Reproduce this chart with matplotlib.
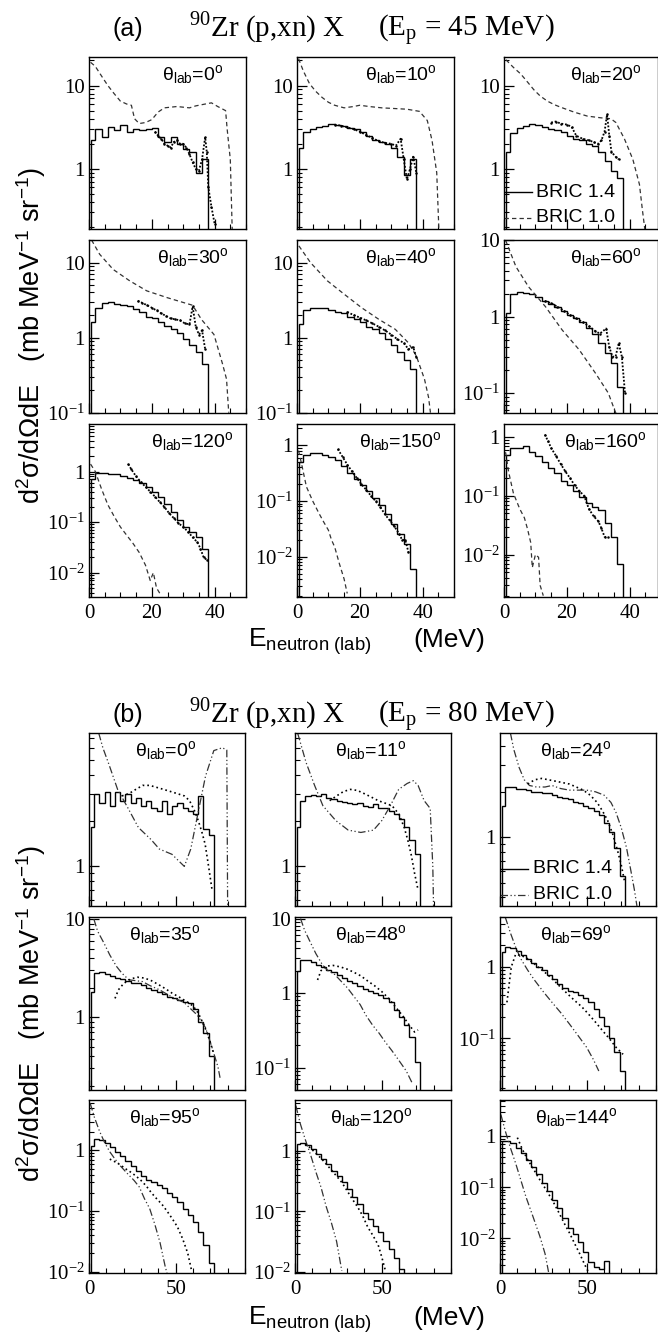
import numpy as np
import matplotlib.pyplot as plt
from matplotlib.ticker import LogLocator, MultipleLocator, FuncFormatter, NullFormatter

plt.rcParams['font.family'] = ['Liberation Sans', 'DejaVu Sans']
plt.rcParams['mathtext.fontset'] = 'custom'
plt.rcParams['mathtext.rm'] = 'Liberation Sans'
plt.rcParams['mathtext.it'] = 'Liberation Sans:italic'

# ---------------- (a) Ep = 45 MeV ----------------
ANGLES_A = ['0', '10', '20', '30', '40', '60', '120', '150', '160']
# bin edges of the BRIC 1.4 histograms (first and last bin are empty)
EDGES_A = [0, 0.75, 2, 4, 6, 8, 10, 12, 14, 16, 18, 20, 22, 24, 26, 28, 30, 32, 34, 36, 38, 40, 42]

A_T0_HIST = [2.2, 3.0, 2.4, 3.2, 2.9, 3.4, 2.8, 3.0, 2.9, 3.0, 3.1, 2.4, 2.1, 2.4, 2.0, 1.75, 1.6, 0.9, 1.3, 0]
A_T0_OLD_E = [0.5, 2, 4, 6, 8, 10, 12, 13.5, 14.5, 16, 18, 20, 22, 24, 28, 32, 34, 37, 39, 41, 43.5, 44, 45, 45.6]
A_T0_OLD_V = [19, 17, 13, 10, 8, 6.5, 6, 5.8, 4.0, 3.5, 3.6, 3.9, 4.8, 5.4, 5.6, 5.4, 5.7, 6.0, 6.2, 5.6, 5.0, 3.0, 1.3, 0.19]
A_T0_EXP_E = [21, 22, 23, 24, 25, 26, 27, 28, 29, 30, 31, 32, 33, 34, 35, 36, 37, 37.5, 38, 39, 40]
A_T0_EXP_V = [2.8, 2.5, 2.3, 2.0, 1.9, 1.8, 2.1, 2.2, 2.0, 2.0, 1.8, 1.5, 1.2, 1.0, 0.95, 1.3, 2.4, 1.6, 0.6, 0.35, 0.22]

A_T10_HIST = [1.8, 2.8, 3.0, 3.2, 3.3, 3.5, 3.4, 3.3, 3.1, 3.0, 2.8, 2.5, 2.2, 2.1, 2.0, 1.8, 1.4, 0.85, 1.3, 0]
A_T10_OLD_E = [0.5, 2, 4, 6, 8, 10, 12, 15, 18, 20, 23, 27, 31, 35, 39, 41.5, 43, 44.5, 45.2]
A_T10_OLD_V = [21, 15, 10.5, 8.5, 7.2, 6.3, 5.8, 5.4, 5.6, 5.8, 5.6, 5.4, 5.3, 5.2, 4.9, 3.8, 2.2, 0.9, 0.18]
A_T10_EXP_E = [12, 14, 16, 18, 20, 22, 24, 26, 28, 30, 31.5, 33, 34, 35, 36, 37, 38]
A_T10_EXP_V = [3.4, 3.3, 3.15, 3.0, 2.8, 2.55, 2.35, 2.15, 2.05, 2.0, 1.9, 2.3, 1.3, 0.75, 1.0, 1.4, 0.9]

A_T20_HIST = [1.6, 2.7, 3.1, 3.3, 3.5, 3.4, 3.2, 3.0, 2.9, 2.8, 2.5, 2.3, 2.2, 2.0, 1.9, 1.6, 1.25, 0.95, 0.78, 0]
A_T20_OLD_E = [0.6, 3, 5.3, 7.5, 9.5, 11.5, 13.8, 16, 18, 22.3, 26.5, 30.8, 34, 35.6, 38.3, 41, 43.1, 44, 44.8]
A_T20_OLD_V = [20.4, 16.5, 13.8, 11, 8.9, 7.5, 6.5, 5.9, 5.5, 4.8, 4.3, 4.1, 4.0, 3.6, 2.3, 1.3, 0.65, 0.33, 0.19]
A_T20_EXP_E = [15, 16.5, 18, 20, 21.5, 23, 25, 27, 28.5, 30, 31, 32, 32.8, 33.5, 34.2, 35.5, 36.5]
A_T20_EXP_V = [3.6, 3.7, 3.5, 3.4, 3.2, 2.5, 2.3, 2.2, 2.1, 2.0, 2.2, 2.8, 4.5, 2.5, 1.6, 1.4, 1.3]

A_T30_HIST = [1.6, 2.5, 2.9, 3.0, 2.8, 2.7, 2.6, 2.4, 2.2, 1.9, 1.8, 1.6, 1.45, 1.3, 1.15, 0.95, 0.8, 0.65, 0.45, 0]
A_T30_OLD_E = [0.8, 3.4, 7.7, 13, 18.4, 25, 30.5, 33, 35.8, 39.8, 42.5, 43.8, 44.5]
A_T30_OLD_V = [20, 12.9, 8.1, 5.7, 4.2, 3.4, 2.9, 2.7, 1.75, 1.1, 0.45, 0.28, 0.1]
A_T30_EXP_E = [15.5, 17, 18.5, 20, 21.5, 23, 24.5, 26, 27.5, 29, 30.5, 32, 33, 34, 35, 36, 37]
A_T30_EXP_V = [3.1, 2.9, 2.7, 2.5, 2.3, 2.1, 1.95, 1.8, 1.75, 1.7, 1.55, 1.5, 2.6, 1.4, 1.1, 1.25, 0.7]

A_T40_HIST = [1.5, 2.3, 2.5, 2.5, 2.45, 2.35, 2.2, 2.1, 1.9, 1.75, 1.6, 1.4, 1.3, 1.15, 0.95, 0.8, 0.65, 0.5, 0.38, 0]
A_T40_OLD_E = [0.6, 4.3, 9.7, 15, 20.6, 26, 31.3, 35.4, 38, 40.6, 41.9, 42.5]
A_T40_OLD_V = [16.7, 10, 5.7, 3.8, 2.5, 1.76, 1.29, 0.86, 0.57, 0.28, 0.16, 0.1]
A_T40_EXP_E = [16, 18, 20, 22, 24, 26, 28, 30, 32, 34, 35.5, 37, 38]
A_T40_EXP_V = [2.2, 2.0, 1.85, 1.7, 1.55, 1.4, 1.25, 1.1, 0.95, 0.85, 0.7, 0.75, 0.55]

A_T60_HIST = [1.1, 2.0, 2.1, 2.05, 2.0, 1.8, 1.6, 1.45, 1.35, 1.2, 1.05, 0.95, 0.85, 0.72, 0.6, 0.45, 0.33, 0.25, 0.12, 0]
A_T60_OLD_E = [0.5, 3.8, 7.8, 13.2, 18.5, 23.9, 29.2, 33.2, 35.2, 36]
A_T60_OLD_V = [10, 4.5, 2.46, 1.35, 0.67, 0.37, 0.18, 0.1, 0.06, 0.05]
A_T60_EXP_E = [13, 15, 17, 19, 21, 23, 25, 27, 29, 30.5, 32.5, 33.5, 34.5, 35.5, 36.5, 37.5, 38.5]
A_T60_EXP_V = [1.6, 1.5, 1.35, 1.2, 1.05, 0.95, 0.85, 0.75, 0.65, 0.6, 0.7, 0.4, 0.3, 0.3, 0.45, 0.3, 0.1]

A_T120_HIST = [0.7, 0.95, 0.95, 0.9, 0.88, 0.82, 0.75, 0.68, 0.6, 0.5, 0.4, 0.32, 0.23, 0.16, 0.11, 0.08, 0.065, 0.05, 0.03, 0]
A_T120_OLD_E = [0.5, 2, 4, 6, 8, 10, 12, 14, 16, 18, 19.5, 20.5, 21.5, 23]
A_T120_OLD_V = [1.4, 1.0, 0.45, 0.22, 0.13, 0.08, 0.055, 0.038, 0.025, 0.014, 0.007, 0.01, 0.005, 0.0035]
A_T120_EXP_E = [12.5, 13.5, 15, 16.5, 18, 19.5, 21, 22.5, 24, 25.5, 27, 28.5, 30, 31.5, 33, 34.5, 35.5, 36.5, 37.5]
A_T120_EXP_V = [1.4, 1.1, 0.8, 0.62, 0.5, 0.4, 0.32, 0.25, 0.2, 0.15, 0.12, 0.095, 0.08, 0.065, 0.05, 0.04, 0.03, 0.02, 0.018]

A_T150_HIST = [0.5, 0.68, 0.72, 0.74, 0.68, 0.62, 0.55, 0.42, 0.32, 0.25, 0.19, 0.15, 0.115, 0.085, 0.058, 0.038, 0.026, 0.017, 0.006, 0]
A_T150_OLD_E = [0.5, 1.5, 3, 5, 7, 8.5, 10, 11, 12, 13.5, 15, 16]
A_T150_OLD_V = [0.8, 0.45, 0.18, 0.1, 0.06, 0.042, 0.03, 0.02, 0.015, 0.0075, 0.004, 0.0022]
A_T150_EXP_E = [13, 14.5, 16, 17.5, 19, 20.5, 22, 23.5, 25, 26.5, 28, 29.5, 31, 32.5, 33.5, 34.5, 35.5]
A_T150_EXP_V = [0.85, 0.62, 0.45, 0.34, 0.26, 0.2, 0.16, 0.125, 0.1, 0.078, 0.058, 0.045, 0.035, 0.026, 0.02, 0.02, 0.012]

A_T160_HIST = [0.5, 0.64, 0.66, 0.7, 0.56, 0.48, 0.38, 0.3, 0.24, 0.18, 0.15, 0.12, 0.097, 0.075, 0.065, 0.057, 0.035, 0.02, 0.007, 0]
A_T160_OLD_E = [0.5, 1.5, 3, 5, 6.5, 7.5, 8.5, 9, 10, 11, 11.5, 12.5]
A_T160_OLD_V = [0.55, 0.25, 0.11, 0.06, 0.042, 0.027, 0.016, 0.006, 0.01, 0.009, 0.003, 0.002]
A_T160_EXP_E = [13, 14, 15, 16.5, 18, 19.5, 21, 22.5, 24, 25.5, 27, 28.5, 30, 31, 32, 33]
A_T160_EXP_V = [1.1, 0.85, 0.65, 0.48, 0.35, 0.26, 0.2, 0.15, 0.12, 0.1, 0.06, 0.045, 0.037, 0.028, 0.02, 0.02]

YLIM_A = [(0.19, 22), (0.19, 22), (0.19, 22),
          (0.099, 20), (0.099, 20), (0.055, 10.05),
          (0.0033, 8.7), (0.0019, 2.4), (0.0019, 1.66)]

# ---------------- (b) Ep = 80 MeV ----------------
ANGLES_B = ['0', '11', '24', '35', '48', '69', '95', '120', '144']
EDGES_B = [0, 1, 3, 6, 9, 12, 15, 18, 21, 24, 27, 30, 33, 36, 39, 42, 45, 48, 51, 54, 57, 60, 63, 66, 69, 72, 75]

B_T0_HIST = [1.8, 3.0, 2.6, 3.1, 2.5, 3.1, 2.7, 3.0, 2.6, 2.8, 2.5, 2.7, 2.4, 2.3, 2.7, 2.2, 2.5, 2.6, 2.4, 2.3, 2.2, 2.9, 1.75, 1.6]
B_T0_OLD_E = [5.6, 8, 11.7, 16.5, 22.6, 28.5, 35.8, 40.6, 47.9, 55, 58.7, 62.4, 67.2, 72, 76.9, 79.5, 80]
B_T0_OLD_V = [7.5, 6.0, 4.6, 3.2, 2.4, 1.8, 1.5, 1.3, 1.2, 1.0, 1.3, 2.1, 3.9, 5.75, 6.0, 5.8, 0.5]
B_T0_EXP_E = [19, 23, 27, 31, 35, 39, 43, 47, 51, 55, 58, 61, 63, 65, 67, 69, 71]
B_T0_EXP_V = [2.9, 3.0, 3.2, 3.4, 3.4, 3.3, 3.2, 3.1, 3.0, 2.9, 2.7, 2.3, 2.0, 1.7, 1.4, 1.0, 0.7]

B_T11_HIST = [1.8, 2.7, 2.9, 2.95, 2.9, 3.0, 2.8, 2.75, 2.7, 2.65, 2.6, 2.55, 2.6, 2.5, 2.45, 2.55, 2.4, 2.4, 2.3, 2.2, 2.05, 1.8, 1.5, 1.2]
B_T11_OLD_E = [1.5, 6.4, 11.3, 16.1, 23.5, 30.7, 38, 45.3, 50.1, 55, 59.8, 64.7, 68.3, 71, 74.5, 78, 79.5, 80]
B_T11_OLD_V = [7.5, 4.8, 3.4, 2.5, 2.0, 1.73, 1.67, 1.73, 2.0, 2.5, 3.2, 3.5, 3.65, 3.4, 2.7, 2.4, 1.0, 0.5]
B_T11_EXP_E = [20, 24, 28, 32, 36, 40, 44, 48, 52, 56, 60, 63, 65, 67, 69, 71]
B_T11_EXP_V = [2.7, 2.9, 3.1, 3.2, 3.15, 3.0, 2.85, 2.7, 2.6, 2.5, 2.2, 1.8, 1.5, 1.2, 0.9, 0.7]

B_T24_HIST = [1.6, 2.15, 2.15, 2.1, 2.1, 2.05, 2.0, 2.0, 1.95, 1.95, 1.9, 1.85, 1.82, 1.78, 1.72, 1.68, 1.62, 1.55, 1.48, 1.4, 1.25, 1.08, 0.85, 0.55]
B_T24_OLD_E = [6, 8, 11, 14, 17, 21, 26, 30, 35, 40, 45, 50, 55, 60, 64, 67, 70, 73, 75.5, 77.5, 79]
B_T24_OLD_V = [4.9, 3.8, 2.9, 2.4, 2.2, 2.15, 2.15, 2.2, 2.1, 2.05, 2.05, 2.05, 2.0, 1.9, 1.7, 1.45, 1.15, 0.85, 0.6, 0.45, 0.35]
B_T24_EXP_E = [16, 20, 24, 28, 32, 36, 40, 44, 48, 52, 56, 59, 62, 65, 68, 70, 72]
B_T24_EXP_V = [2.25, 2.4, 2.45, 2.4, 2.35, 2.3, 2.25, 2.15, 2.05, 1.9, 1.7, 1.5, 1.3, 1.05, 0.8, 0.65, 0.5]

B_T35_HIST = [1.8, 2.8, 2.9, 2.75, 2.6, 2.5, 2.45, 2.35, 2.25, 2.2, 2.1, 2.0, 1.9, 1.8, 1.7, 1.62, 1.55, 1.48, 1.42, 1.38, 1.2, 0.9, 0.68, 0.4]
B_T35_OLD_E = [2.8, 5, 8.6, 12, 15.8, 19, 23, 27, 30.9, 35, 40.6, 47.9, 55, 62.4, 67.2, 70.8, 74.4, 75.6]
B_T35_OLD_V = [10, 7.5, 5.7, 4.3, 3.3, 2.8, 2.4, 2.35, 2.3, 2.1, 1.9, 1.6, 1.4, 1.05, 0.78, 0.5, 0.31, 0.24]
B_T35_EXP_E = [15, 17, 20, 24, 28, 32, 36, 40, 44, 48, 52, 56, 60, 63, 66, 68, 70, 72]
B_T35_EXP_V = [1.55, 1.9, 2.2, 2.45, 2.55, 2.5, 2.35, 2.15, 1.95, 1.75, 1.6, 1.45, 1.3, 1.1, 0.85, 0.7, 0.55, 0.42]

B_T48_HIST = [2.0, 2.75, 2.8, 2.6, 2.4, 2.25, 2.05, 1.9, 1.75, 1.6, 1.45, 1.35, 1.25, 1.15, 1.08, 1.0, 0.95, 0.85, 0.75, 0.6, 0.48, 0.37, 0.26, 0.12]
B_T48_OLD_E = [3.2, 5.5, 8.5, 12, 15.8, 19, 23, 26.5, 30.3, 34, 37.6, 41, 44.8, 48.5, 52.1, 55.8, 59.4, 64.2, 67.9]
B_T48_OLD_V = [10, 7.0, 5.0, 3.4, 2.4, 2.0, 1.77, 1.45, 1.17, 0.9, 0.7, 0.5, 0.37, 0.29, 0.22, 0.17, 0.13, 0.09, 0.06]
B_T48_EXP_E = [13, 15, 18, 22, 26, 30, 34, 38, 42, 46, 50, 54, 58, 62, 66, 69, 71]
B_T48_EXP_V = [1.5, 2.0, 2.3, 2.35, 2.25, 2.1, 1.9, 1.7, 1.45, 1.25, 1.05, 0.85, 0.65, 0.5, 0.37, 0.3, 0.32]

B_T69_HIST = [1.6, 1.9, 1.85, 1.65, 1.45, 1.3, 1.15, 1.0, 0.9, 0.78, 0.68, 0.58, 0.5, 0.46, 0.44, 0.41, 0.37, 0.32, 0.26, 0.2, 0.15, 0.1, 0.065, 0.035]
B_T69_OLD_E = [3, 6, 9, 12, 16, 20, 25, 30, 35, 40, 45, 50, 54, 57]
B_T69_OLD_V = [5.0, 3.0, 1.9, 1.3, 0.9, 0.65, 0.45, 0.32, 0.23, 0.16, 0.11, 0.075, 0.05, 0.035]
B_T69_EXP_E = [4, 6.5, 9, 12, 15, 19, 23, 27, 31, 35, 39, 43, 47, 51, 55, 59, 63, 67, 71]
B_T69_EXP_V = [0.32, 1.0, 1.5, 1.45, 1.35, 1.15, 0.95, 0.8, 0.65, 0.52, 0.42, 0.34, 0.28, 0.22, 0.17, 0.13, 0.1, 0.075, 0.06]

B_T95_HIST = [1.2, 1.55, 1.5, 1.35, 1.15, 0.95, 0.8, 0.68, 0.55, 0.45, 0.38, 0.33, 0.3, 0.27, 0.24, 0.2, 0.17, 0.14, 0.11, 0.085, 0.065, 0.045, 0.028, 0.014]
B_T95_OLD_E = [0.7, 3, 6, 9, 12, 15, 18, 22, 26, 29, 32, 35, 38, 41, 44, 45]
B_T95_OLD_V = [6, 3.6, 2.1, 1.35, 0.95, 0.72, 0.56, 0.42, 0.32, 0.25, 0.16, 0.11, 0.06, 0.03, 0.012, 0.0095]
B_T95_EXP_E = [12, 15, 18, 21, 24, 27, 30, 33, 36, 39, 42, 45, 48, 51, 54, 57, 59]
B_T95_EXP_V = [0.72, 0.65, 0.58, 0.5, 0.44, 0.38, 0.32, 0.26, 0.2, 0.16, 0.13, 0.1, 0.075, 0.055, 0.035, 0.02, 0.011]

B_T120_HIST = [1.3, 1.35, 1.25, 1.05, 0.88, 0.72, 0.6, 0.47, 0.38, 0.3, 0.23, 0.17, 0.13, 0.095, 0.075, 0.058, 0.045, 0.033, 0.024, 0.017, 0.0115, 0, 0, 0]
B_T120_OLD_E = [0.5, 3, 6, 9, 12, 15, 18, 21, 24, 27]
B_T120_OLD_V = [5.5, 2.8, 1.5, 0.85, 0.45, 0.25, 0.12, 0.065, 0.032, 0.0105]
B_T120_EXP_E = [6, 9, 12, 15, 18, 21, 24, 27, 30, 33, 36, 39, 42, 45, 48, 50, 52]
B_T120_EXP_V = [1.3, 1.1, 0.9, 0.75, 0.6, 0.48, 0.38, 0.3, 0.22, 0.16, 0.12, 0.085, 0.055, 0.04, 0.028, 0.018, 0.011]

B_T144_HIST = [0.8, 0.82, 0.75, 0.6, 0.48, 0.35, 0.25, 0.18, 0.12, 0.085, 0.058, 0.04, 0.025, 0.016, 0.012, 0.0085, 0.0055, 0.0035, 0.0028, 0.0025, 0.0036, 0, 0, 0]
B_T144_OLD_E = [0.5, 3, 6, 9, 12, 15, 19, 23, 26, 28]
B_T144_OLD_V = [2.7, 1.3, 0.6, 0.3, 0.14, 0.065, 0.027, 0.011, 0.005, 0.0022]
B_T144_EXP_E = [10, 13, 16, 19, 22, 25, 28, 31, 34, 37, 40, 43, 46, 49, 51]
B_T144_EXP_V = [0.95, 0.55, 0.35, 0.24, 0.16, 0.11, 0.075, 0.05, 0.032, 0.02, 0.013, 0.008, 0.005, 0.003, 0.0022]

YLIM_B = [(0.55, 7.5), (0.55, 7.5), (0.35, 4.9),
          (0.18, 10.5), (0.05, 10.5), (0.019, 5.0),
          (0.0095, 6.8), (0.0097, 6.8), (0.0021, 5.2)]

PANELS_A = [
    (A_T0_HIST, A_T0_OLD_E, A_T0_OLD_V, A_T0_EXP_E, A_T0_EXP_V),
    (A_T10_HIST, A_T10_OLD_E, A_T10_OLD_V, A_T10_EXP_E, A_T10_EXP_V),
    (A_T20_HIST, A_T20_OLD_E, A_T20_OLD_V, A_T20_EXP_E, A_T20_EXP_V),
    (A_T30_HIST, A_T30_OLD_E, A_T30_OLD_V, A_T30_EXP_E, A_T30_EXP_V),
    (A_T40_HIST, A_T40_OLD_E, A_T40_OLD_V, A_T40_EXP_E, A_T40_EXP_V),
    (A_T60_HIST, A_T60_OLD_E, A_T60_OLD_V, A_T60_EXP_E, A_T60_EXP_V),
    (A_T120_HIST, A_T120_OLD_E, A_T120_OLD_V, A_T120_EXP_E, A_T120_EXP_V),
    (A_T150_HIST, A_T150_OLD_E, A_T150_OLD_V, A_T150_EXP_E, A_T150_EXP_V),
    (A_T160_HIST, A_T160_OLD_E, A_T160_OLD_V, A_T160_EXP_E, A_T160_EXP_V),
]
PANELS_B = [
    (B_T0_HIST, B_T0_OLD_E, B_T0_OLD_V, B_T0_EXP_E, B_T0_EXP_V),
    (B_T11_HIST, B_T11_OLD_E, B_T11_OLD_V, B_T11_EXP_E, B_T11_EXP_V),
    (B_T24_HIST, B_T24_OLD_E, B_T24_OLD_V, B_T24_EXP_E, B_T24_EXP_V),
    (B_T35_HIST, B_T35_OLD_E, B_T35_OLD_V, B_T35_EXP_E, B_T35_EXP_V),
    (B_T48_HIST, B_T48_OLD_E, B_T48_OLD_V, B_T48_EXP_E, B_T48_EXP_V),
    (B_T69_HIST, B_T69_OLD_E, B_T69_OLD_V, B_T69_EXP_E, B_T69_EXP_V),
    (B_T95_HIST, B_T95_OLD_E, B_T95_OLD_V, B_T95_EXP_E, B_T95_EXP_V),
    (B_T120_HIST, B_T120_OLD_E, B_T120_OLD_V, B_T120_EXP_E, B_T120_EXP_V),
    (B_T144_HIST, B_T144_OLD_E, B_T144_OLD_V, B_T144_EXP_E, B_T144_EXP_V),
]

# ---------------- layout (pixels) ----------------
W, H = 658.0, 1336.0
COLS_A = [(89, 246), (297, 454), (504, 658)]
XMAX_A = [50, 50, 49]
ROWS_A = [(57, 229), (240, 413), (424, 597)]
COLS_B = [(89, 245), (295, 451), (500, 656)]
ROWS_B = [(733, 906), (917, 1090), (1100, 1273)]

SERIF = 'Liberation Serif'
SANS = 'Liberation Sans'
TINY = 1e-7


def dec_label(v, pos):
    e = int(round(np.log10(v)))
    if e == 0:
        return '1'
    if e == 1:
        return '10'
    return r'$\mathregular{10^{%d}}$' % e


fig = plt.figure(figsize=(W / 100, H / 100), dpi=100)


def make_axes(x0, x1, y0, y1):
    return fig.add_axes([x0 / W, 1 - y1 / H, (x1 - x0) / W, (y1 - y0) / H])


def draw_panel(ax, edges, data, ylim, xmax, part, bottom_row):
    hist, old_e, old_v, exp_e, exp_v = data
    vals = np.asarray(hist, dtype=float)
    vals = np.where(vals > 0, vals, TINY)
    vals = np.r_[TINY, vals, TINY]
    old_ls = (0, (3.5, 2.5)) if part == 'a' else (0, (6, 2, 1, 2, 1, 2))
    ax.stairs(vals, edges, baseline=None, color='k', lw=1.0)
    ax.plot(old_e, old_v, color='0.2', lw=0.9, ls=old_ls)
    if part == 'a':
        ax.plot(exp_e, exp_v, color='k', lw=1.3, ls=(0, (1, 1)),
                marker='o', ms=1.8, mew=0)
    else:
        ax.plot(exp_e, exp_v, color='k', lw=1.2, ls=(0, (1, 1.8)))

    ax.set_yscale('log')
    ax.set_xlim(0, xmax)
    ax.set_ylim(*ylim)
    ax.yaxis.set_major_locator(LogLocator(base=10, numticks=12))
    ax.yaxis.set_minor_locator(LogLocator(base=10, subs=np.arange(2, 10), numticks=30))
    ax.yaxis.set_major_formatter(FuncFormatter(dec_label))
    ax.yaxis.set_minor_formatter(NullFormatter())
    if part == 'a':
        ax.xaxis.set_major_locator(MultipleLocator(20))
        ax.xaxis.set_minor_locator(MultipleLocator(5))
    else:
        ax.xaxis.set_major_locator(MultipleLocator(50))
        ax.xaxis.set_minor_locator(MultipleLocator(10))
    ax.tick_params(which='both', direction='in', top=False, right=False,
                   labelfontfamily=SERIF)
    ax.tick_params(which='major', length=7, width=0.9, labelsize=15)
    ax.tick_params(which='minor', length=3.5, width=0.8)
    ax.tick_params(axis='y', pad=3)
    ax.tick_params(axis='x', pad=5, labelbottom=bottom_row)
    for s in ax.spines.values():
        s.set_linewidth(1.0)


def legend_in(ax, part):
    old_ls = (0, (3.5, 2.5)) if part == 'a' else (0, (6, 2, 1, 2, 1, 2))
    y1, y2 = (0.215, 0.064)
    ax.plot([0.0, 0.18], [y1, y1], color='k', lw=1.0, transform=ax.transAxes)
    ax.plot([0.0, 0.18], [y2, y2], color='0.2', lw=0.9, ls=old_ls, transform=ax.transAxes)
    ax.text(0.21, y1, 'BRIC 1.4', transform=ax.transAxes, fontsize=14, va='center', family=SANS)
    ax.text(0.21, y2, 'BRIC 1.0', transform=ax.transAxes, fontsize=14, va='center', family=SANS)


ylabel = (r'd$^{\mathregular{2}}$σ/dΩdE   (mb MeV$^{\mathregular{-1}}$ sr$^{\mathregular{-1}}$)')

for part, panels, angles, ylims, rows, cols, edges, ebeam, dy in [
        ('a', PANELS_A, ANGLES_A, YLIM_A, ROWS_A, COLS_A, EDGES_A, '45', 0),
        ('b', PANELS_B, ANGLES_B, YLIM_B, ROWS_B, COLS_B, EDGES_B, '80', 686)]:
    for k in range(9):
        r, c = divmod(k, 3)
        x0, x1 = cols[c]
        y0, y1 = rows[r]
        ax = make_axes(x0, x1, y0, y1)
        xmax = XMAX_A[c] if part == 'a' else 90
        draw_panel(ax, edges, panels[k], ylims[k], xmax, part, r == 2)
        fx = 0.66 if part == 'a' else 0.49
        ax.text(fx, 0.9, r'θ$_{\mathregular{lab}}$=' + angles[k] + r'$^{\mathregular{o}}$',
                transform=ax.transAxes, ha='center', va='center', fontsize=14, family=SANS)
        if k == 2:
            legend_in(ax, part)

    # titles
    fig.text(113 / W, 1 - (36 + dy) / H, '(%s)' % part, fontsize=18, family=SANS, va='baseline')
    fig.text(189 / W, 1 - (36 + dy) / H, r'$^{\mathregular{90}}$Zr (p,xn) X',
             fontsize=21, family=SERIF, va='baseline')
    fig.text(378 / W, 1 - (36 + dy) / H, r'(E$_{\mathregular{p}}$ = %s MeV)' % ebeam,
             fontsize=21, family=SERIF, va='baseline')

    # axis titles
    yc = 336 if part == 'a' else 1014
    fig.text(31 / W, 1 - yc / H, ylabel, rotation=90, ha='center', va='center',
             fontsize=19.5, family=SANS)
    yb = 647 if part == 'a' else 1325
    fig.text(248 / W, 1 - yb / H, r'E$_{\mathregular{neutron\ (lab)}}$', fontsize=19,
             family=SANS, va='baseline')
    fig.text(413 / W, 1 - yb / H, '(MeV)', fontsize=19, family=SANS, va='baseline')

fig.savefig('out.png', dpi=100, facecolor='white')
